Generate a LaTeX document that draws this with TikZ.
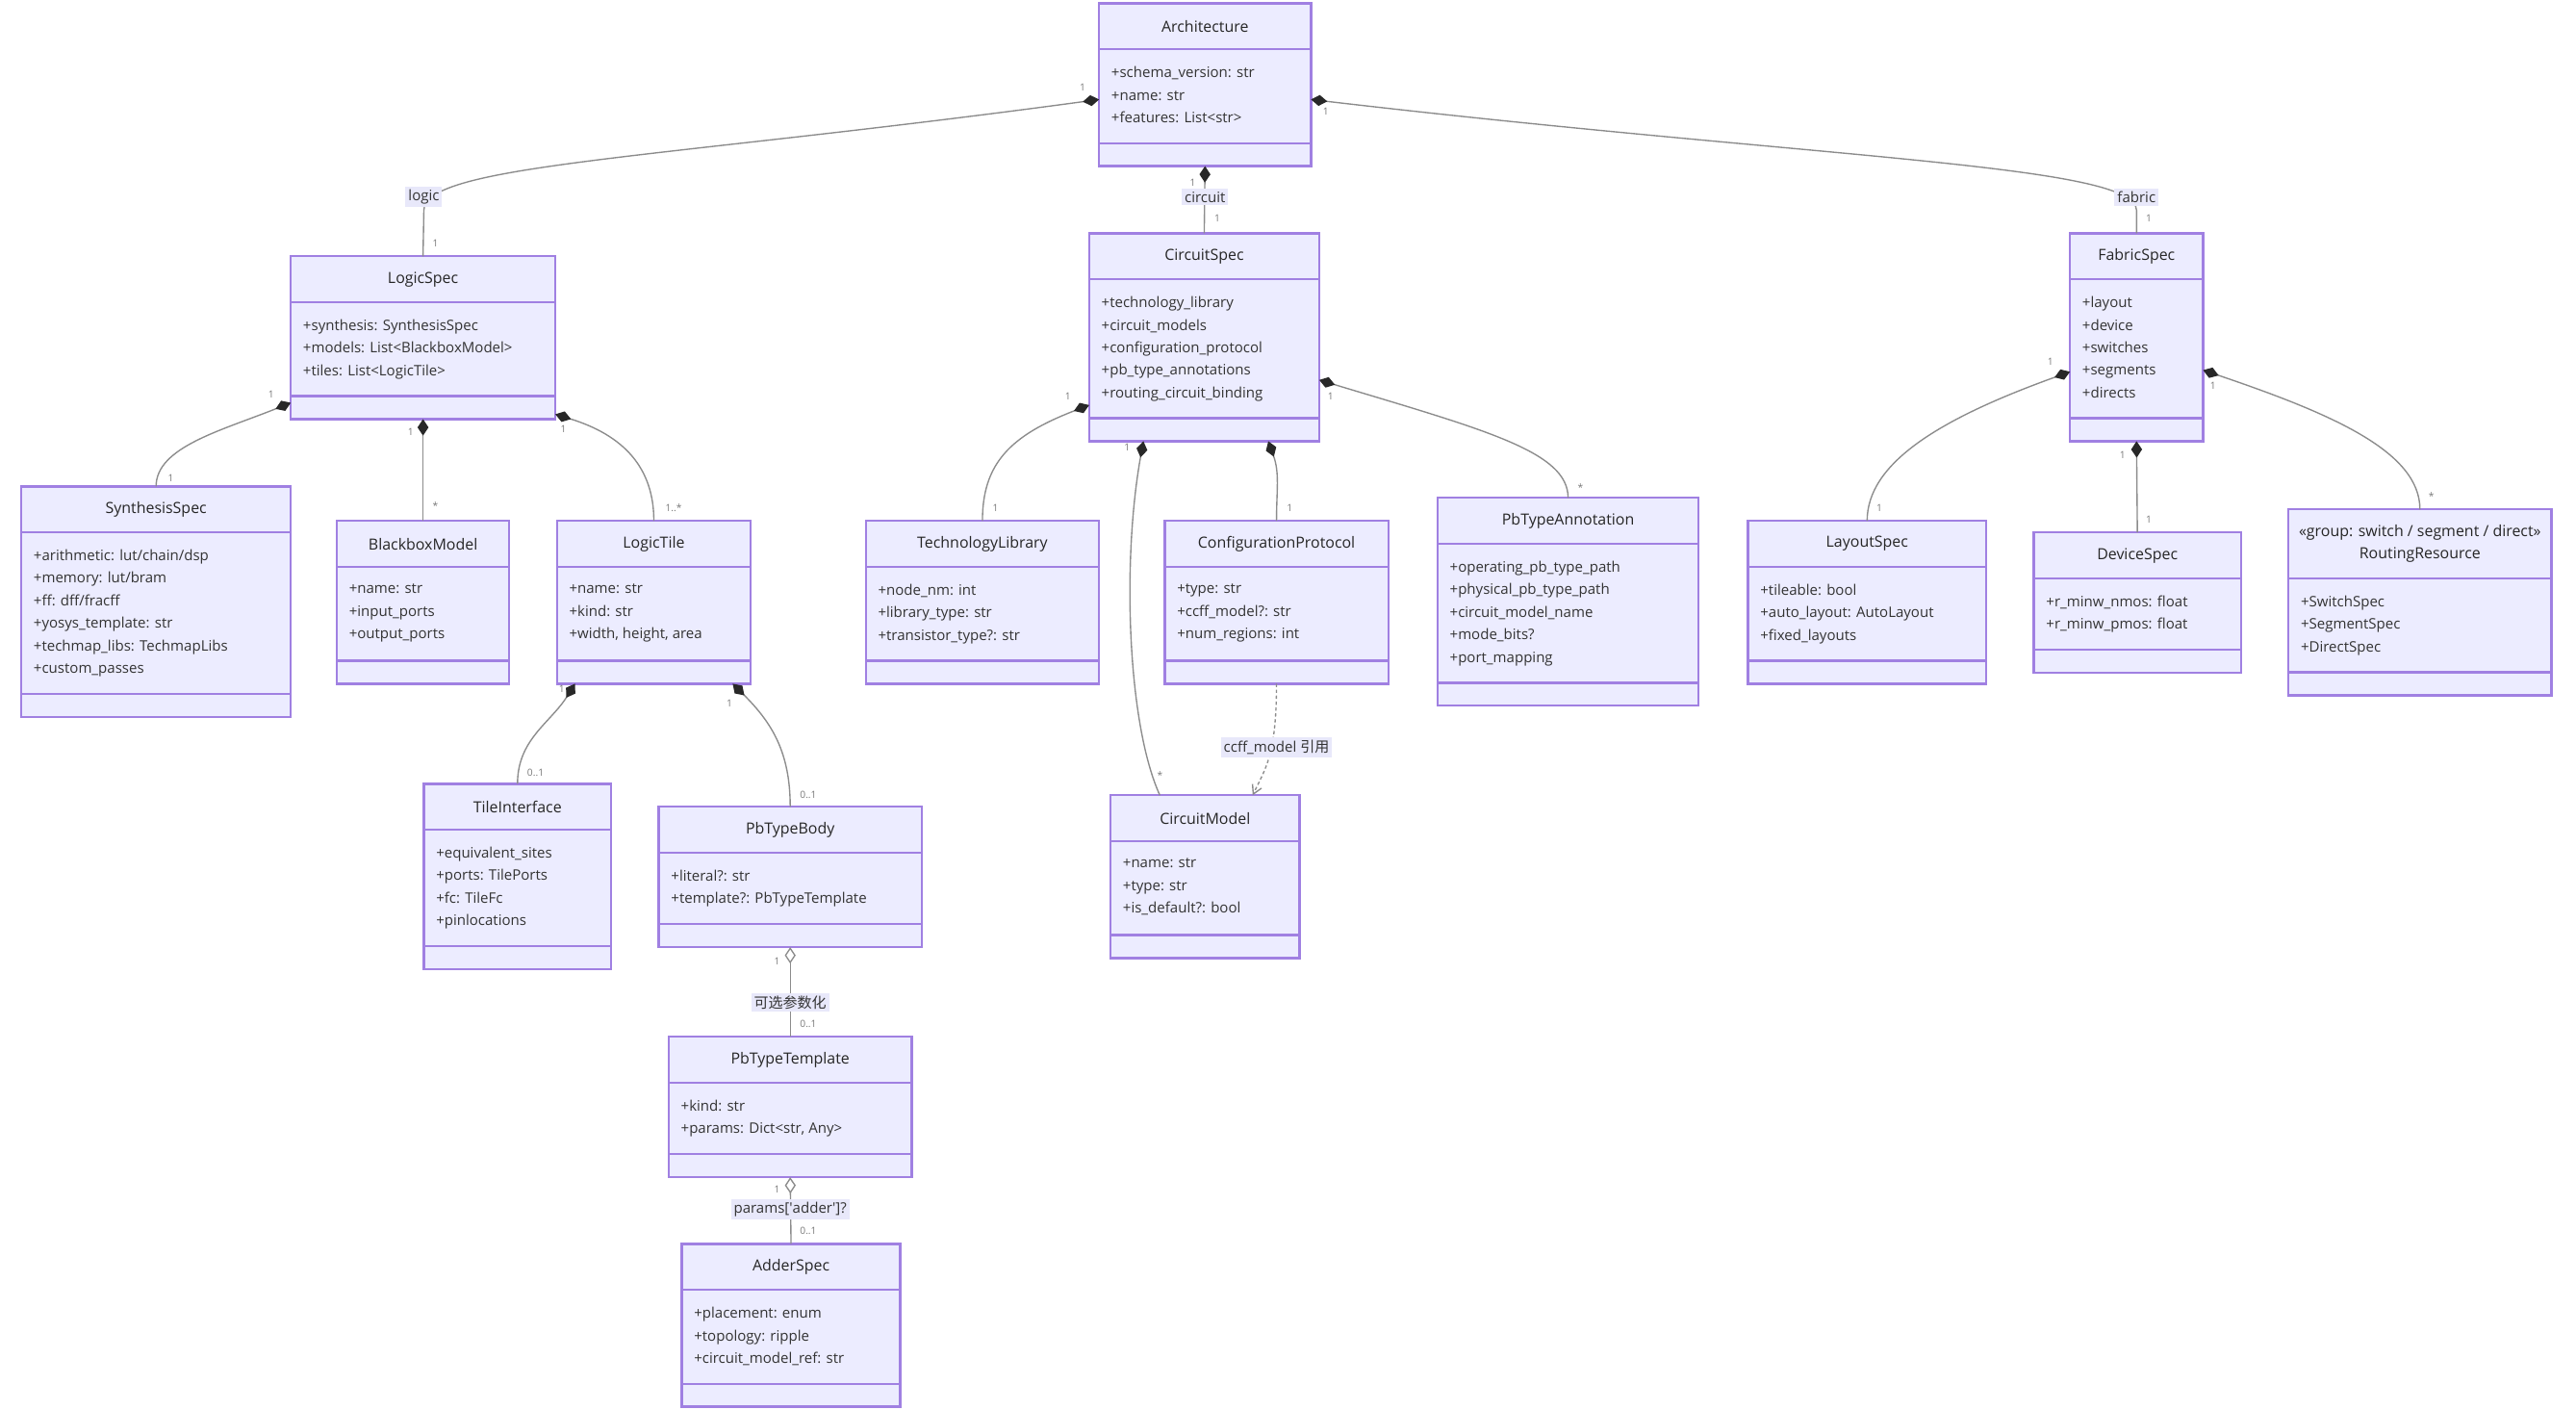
\documentclass[tikz,border=0pt]{standalone}
\usepackage{fontspec}
\setmainfont{Open Sans}
\newfontfamily\cjk{Noto Sans CJK SC}
\usetikzlibrary{arrows.meta,calc}

\definecolor{umlfill}{RGB}{236,236,255}
\definecolor{umlborder}{RGB}{160,128,226}
\definecolor{umltext}{RGB}{51,51,51}
\definecolor{edgecol}{RGB}{140,140,140}
\definecolor{diacol}{RGB}{40,40,40}
\definecolor{lblfill}{RGB}{232,232,250}
\definecolor{multgray}{RGB}{120,120,120}

\tikzset{every picture/.style={line width=0.75pt}}
\tikzset{
  clsbox/.style={draw=umlborder, fill=umlfill, line width=1pt, inner sep=0pt, outer sep=0pt},
  clsline/.style={draw=umlborder, line width=1pt},
  clstitle/.style={font=\fontsize{7}{10.3}\selectfont, text=black!85, align=center, inner sep=0pt},
  clsattr/.style={font=\fontsize{6.6}{10.3}\selectfont, text=umltext, align=left, inner sep=0pt},
  edgelbl/.style={fill=lblfill, font=\fontsize{6.6}{8}\selectfont, text=umltext, inner sep=1.3pt},
  mult/.style={font=\fontsize{4.5}{5}\selectfont, text=multgray, inner sep=0pt},
  compo/.style={draw=edgecol, line width=0.6pt, {Diamond[length=7.5pt,width=5pt,color=diacol]}-},
  aggr/.style={draw=edgecol, line width=0.6pt, {Diamond[length=7.5pt,width=5pt,fill=white,color=edgecol]}-},
  dep/.style={draw=edgecol, line width=0.6pt, dash pattern=on 1.5pt off 1.2pt, -{Straight Barb[length=4pt,width=4.5pt]}}
}

% class box: [title lines]{name}{left}{top}{width}{rows}{title}{attributes}
\newcommand{\umlclass}[8][1]{%
  \pgfmathsetmacro{\clsht}{14+14*#1}%
  \pgfmathsetmacro{\clsha}{16+13.7*#6}%
  \pgfmathsetmacro{\clsh}{\clsht+\clsha+14}%
  \node[clsbox, anchor=north west, minimum width=#5*0.75pt, minimum height=\clsh*0.75pt] (#2) at (#3,#4) {};
  \node[clstitle] (#2-title) at ($(#2.north)+(0,\clsht/2)$) {#7};
  \draw[clsline] ($(#2.north west)+(0,\clsht)$) -- ($(#2.north east)+(0,\clsht)$);
  \draw[clsline] ($(#2.north west)+(0,\clsht+\clsha)$) -- ($(#2.north east)+(0,\clsht+\clsha)$);
  \node[clsattr, anchor=north west] (#2-attr) at ($(#2.north west)+(7,\clsht+10)$) {#8};
}

\begin{document}
\begin{tikzpicture}[x=0.75pt,y=0.75pt,yscale=-1,xscale=1]
\fill[white] (0,0) rectangle (1568,858);
\useasboundingbox (0,0) rectangle (1568,858);

%Classes
\umlclass{arch}{669}{2}{129}{3}{Architecture}{+schema\_version: str\\+name: str\\+features: List<str>}
\umlclass{logic}{177}{156}{161}{3}{LogicSpec}{+synthesis: SynthesisSpec\\+models: List<BlackboxModel>\\+tiles: List<LogicTile>}
\umlclass{circuit}{663}{142}{140}{5}{CircuitSpec}{+technology\_library\\+circuit\_models\\+configuration\_protocol\\+pb\_type\_annotations\\+routing\_circuit\_binding}
\umlclass{fabric}{1260}{142}{81}{5}{FabricSpec}{+layout\\+device\\+switches\\+segments\\+directs}
\umlclass{synth}{13}{296}{164}{6}{SynthesisSpec}{+arithmetic: lut/chain/dsp\\+memory: lut/bram\\+ff: dff/fracff\\+yosys\_template: str\\+techmap\_libs: TechmapLibs\\+custom\_passes}
\umlclass{bbox}{205}{317}{105}{3}{BlackboxModel}{+name: str\\+input\_ports\\+output\_ports}
\umlclass{ltile}{339}{317}{118}{3}{LogicTile}{+name: str\\+kind: str\\+width, height, area}
\umlclass{tlib}{527}{317}{142}{3}{TechnologyLibrary}{+node\_nm: int\\+library\_type: str\\+transistor\_type?: str}
\umlclass{cfgp}{709}{317}{136}{3}{ConfigurationProtocol}{+type: str\\+ccff\_model?: str\\+num\_regions: int}
\umlclass{pbann}{875}{303}{159}{5}{PbTypeAnnotation}{+operating\_pb\_type\_path\\+physical\_pb\_type\_path\\+circuit\_model\_name\\+mode\_bits?\\+port\_mapping}
\umlclass{layout}{1064}{317}{145}{3}{LayoutSpec}{+tileable: bool\\+auto\_layout: AutoLayout\\+fixed\_layouts}
\umlclass{device}{1238}{324}{126}{2}{DeviceSpec}{+r\_minw\_nmos: float\\+r\_minw\_pmos: float}
\umlclass[2]{routing}{1393}{310}{160}{3}{«group: switch / segment / direct»\\RoutingResource}{+SwitchSpec\\+SegmentSpec\\+DirectSpec}
\umlclass{tiface}{258}{477}{114}{4}{TileInterface}{+equivalent\_sites\\+ports: TilePorts\\+fc: TileFc\\+pinlocations}
\umlclass{pbbody}{401}{491}{160}{2}{PbTypeBody}{+literal?: str\\+template?: PbTypeTemplate}
\umlclass{cmodel}{676}{484}{115}{3}{CircuitModel}{+name: str\\+type: str\\+is\_default?: bool}
\umlclass{pbtpl}{407}{631}{148}{2}{PbTypeTemplate}{+kind: str\\+params: Dict<str, Any>}
\umlclass{adder}{415}{757}{133}{3}{AdderSpec}{+placement: enum\\+topology: ripple\\+circuit\_model\_ref: str}

%Compositions from Architecture
\draw[compo] ($(arch.west)+(0,9)$) .. controls (400,97) and (258,100) .. (258,128) -- (logic.north);
\draw[compo] (arch.south) -- (circuit.north);
\draw[compo] ($(arch.east)+(0,9)$) .. controls (1110,97) and (1300.5,100) .. (1300.5,128) -- (fabric.north);

%Compositions from LogicSpec
\draw[compo] ($(logic.south west)+(0,-10)$) .. controls (135,262) and (95,272) .. (synth.north);
\draw[compo] (logic.south) -- (bbox.north);
\draw[compo] ($(logic.south east)+(0,-3)$) .. controls (380,265) and (398,285) .. (ltile.north);
\draw[compo] ($(ltile.south west)+(11,0)$) .. controls (335,440) and (315,450) .. (tiface.north);
\draw[compo] ($(ltile.south east)+(-11,0)$) .. controls (470,440) and (481,458) .. (pbbody.north);
\draw[aggr] (pbbody.south) -- (pbtpl.north);
\draw[aggr] (pbtpl.south) -- (adder.north);

%Compositions from CircuitSpec
\draw[compo] ($(circuit.south west)+(0,-22)$) .. controls (615,265) and (598,282) .. (tlib.north);
\draw[compo] ($(circuit.south west)+(33,0)$) .. controls (683,340) and (686,440) .. ($(cmodel.north west)+(30,0)$);
\draw[compo] ($(circuit.south east)+(-31,0)$) .. controls (779,288) and (777,298) .. (cfgp.north);
\draw[compo] ($(circuit.east)+(0,26)$) .. controls (905,262) and (954.5,275) .. (pbann.north);
\draw[dep] (cfgp.south) .. controls (777,460) and (770,468) .. ($(cmodel.north)+(29,0)$);

%Compositions from FabricSpec
\draw[compo] ($(fabric.west)+(0,21)$) .. controls (1180,255) and (1136.5,282) .. (layout.north);
\draw[compo] (fabric.south) -- (device.north);
\draw[compo] ($(fabric.east)+(0,20)$) .. controls (1420,252) and (1473,275) .. (routing.north);

% Text Node
\node[edgelbl] (lbllogic) at (258,120) {logic};
\node[edgelbl] (lblcircuit) at (733.5,120) {circuit};
\node[edgelbl] (lblfabric) at (1300.5,120) {fabric};
\node[edgelbl] (lbloptional) at (481,610) {\cjk 可选参数化};
\node[edgelbl] (lbladder) at (481,736) {params[\textquotesingle adder\textquotesingle]?};
\node[edgelbl] (lblccff) at (777,455) {ccff\_model {\cjk 引用}};

% Multiplicities
\node[mult] (m1a) at (659,53) {1};
\node[mult] (m1b) at (265,148) {1};
\node[mult] (m2a) at (726,111) {1};
\node[mult] (m2b) at (741,133) {1};
\node[mult] (m3a) at (807,68) {1};
\node[mult] (m3b) at (1308,133) {1};
\node[mult] (m4a) at (165,240) {1};
\node[mult] (m4b) at (104,291) {1};
\node[mult] (m5a) at (250,263) {1};
\node[mult] (m5b) at (265,308) {*};
\node[mult] (m6a) at (343,261) {1};
\node[mult] (m6b) at (410,309) {1..*};
\node[mult] (m7a) at (342,419) {1};
\node[mult] (m7b) at (326,470) {0..1};
\node[mult] (m8a) at (444,428) {1};
\node[mult] (m8b) at (492,484) {0..1};
\node[mult] (m9a) at (473,585) {1};
\node[mult] (m9b) at (492,623) {0..1};
\node[mult] (m10a) at (473,724) {1};
\node[mult] (m10b) at (492,749) {0..1};
\node[mult] (m11a) at (650,241) {1};
\node[mult] (m11b) at (606,309) {1};
\node[mult] (m12a) at (686,272) {1};
\node[mult] (m12b) at (706,472) {*};
\node[mult] (m13b) at (785,309) {1};
\node[mult] (m14a) at (810,241) {1};
\node[mult] (m14b) at (962,297) {*};
\node[mult] (m16a) at (1248,220) {1};
\node[mult] (m16b) at (1144,309) {1};
\node[mult] (m17a) at (1292,277) {1};
\node[mult] (m17b) at (1308,316) {1};
\node[mult] (m18a) at (1347,235) {1};
\node[mult] (m18b) at (1480,302) {*};

\end{tikzpicture}
\end{document}
